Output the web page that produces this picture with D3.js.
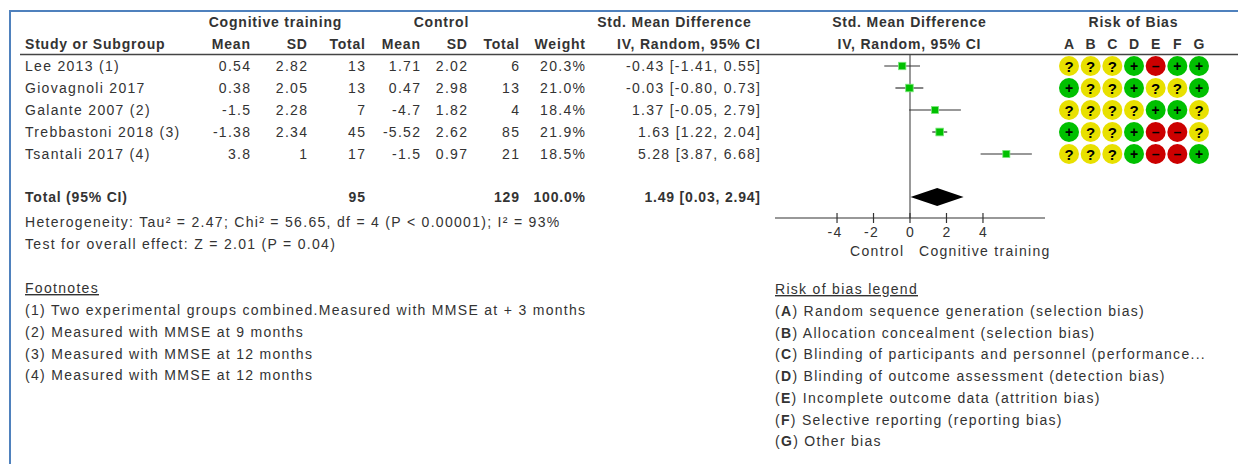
<!DOCTYPE html>
<html>
<head>
<meta charset="utf-8">
<script src="https://cdn.jsdelivr.net/npm/d3@7"></script>
<style>
  html, body { margin: 0; padding: 0; background: #fff; }
  svg { display: block; }
  text { font-family: "Liberation Sans", Arial, sans-serif; font-size: 14px; fill: #333; letter-spacing: 1.3px; }
  .b { font-weight: bold; fill: #333; letter-spacing: 0.8px; }
</style>
</head>
<body>
<svg id="chart" width="1238" height="464"></svg>
<script>
// Study-level data
const studies   = ["Lee 2013 (1)", "Giovagnoli 2017", "Galante 2007 (2)", "Trebbastoni 2018 (3)", "Tsantali 2017 (4)"];
const ctMean    = [0.54, 0.38, -1.5, -1.38, 3.8];
const ctSD      = [2.82, 2.05, 2.28, 2.34, 1];
const ctTotal   = [13, 13, 7, 45, 17];
const coMean    = [1.71, 0.47, -4.7, -5.52, -1.5];
const coSD      = [2.02, 2.98, 1.82, 2.62, 0.97];
const coTotal   = [6, 13, 4, 85, 21];
const weights   = [20.3, 21.0, 18.4, 21.9, 18.5];
const smd       = [-0.43, -0.03, 1.37, 1.63, 5.28];
const ciLow     = [-1.41, -0.80, -0.05, 1.22, 3.87];
const ciHigh    = [0.55, 0.73, 2.79, 2.04, 6.68];
// Risk of bias judgements per domain A..G ("+" low, "-" high, "?" unclear)
const biasDomains = ["A", "B", "C", "D", "E", "F", "G"];
const biasRows  = ["???+-++", "+??+??+", "????++?", "+??+--?", "???+--+"];

// Pooled estimate
const totalCT = 95, totalCo = 129, totalWeight = 100.0;
const pooled = { est: 1.49, lo: 0.03, hi: 2.94 };
const heterogeneity = "Heterogeneity: Tau\u00B2 = 2.47; Chi\u00B2 = 56.65, df = 4 (P < 0.00001); I\u00B2 = 93%";
const overallEffect = "Test for overall effect: Z = 2.01 (P = 0.04)";

const axisTicks = [-4, -2, 0, 2, 4];
const footnotes = [
  "(1) Two experimental groups combined.Measured with MMSE at + 3 months",
  "(2) Measured with MMSE at 9 months",
  "(3) Measured with MMSE at 12 months",
  "(4) Measured with MMSE at 12 months"
];
const legendItems = [
  ["A", "Random sequence generation (selection bias)"],
  ["B", "Allocation concealment (selection bias)"],
  ["C", "Blinding of participants and personnel (performance..."],
  ["D", "Blinding of outcome assessment (detection bias)"],
  ["E", "Incomplete outcome data (attrition bias)"],
  ["F", "Selective reporting (reporting bias)"],
  ["G", "Other bias"]
];

const svg = d3.select("#chart");

// Frame
svg.append("line").attr("x1", 9).attr("x2", 1238).attr("y1", 11).attr("y2", 11)
  .attr("stroke", "#4f81bd").attr("stroke-width", 2);
svg.append("line").attr("x1", 10).attr("x2", 10).attr("y1", 10).attr("y2", 464)
  .attr("stroke", "#4f81bd").attr("stroke-width", 2);

// Text helper; end-anchored text is nudged right to cancel trailing letter spacing
function txt(x, y, s, anchor, cls) {
  const ls = cls === "b" ? 0.8 : 1.3;
  const dx = anchor === "end" ? ls : anchor === "middle" ? ls / 2 : 0;
  return svg.append("text").attr("x", x + dx).attr("y", y + 5)
    .attr("text-anchor", anchor || "start")
    .attr("class", cls || null).text(s);
}

// Row positions
const rowY = d3.scalePoint().domain(d3.range(studies.length)).range([66, 154]);

// Column right edges
const col = { ctMean: 250, ctSD: 307, ctTotal: 365, coMean: 420, coSD: 467, coTotal: 519, weight: 585, ci: 760 };

// Header
txt(275, 22, "Cognitive training", "middle", "b");
txt(441, 22, "Control", "middle", "b");
txt(674, 22, "Std. Mean Difference", "middle", "b");
txt(909, 22, "Std. Mean Difference", "middle", "b");
txt(1133, 22, "Risk of Bias", "middle", "b");
txt(25, 44, "Study or Subgroup", "start", "b");
txt(col.ctMean, 44, "Mean", "end", "b");
txt(col.ctSD, 44, "SD", "end", "b");
txt(col.ctTotal, 44, "Total", "end", "b");
txt(col.coMean, 44, "Mean", "end", "b");
txt(col.coSD, 44, "SD", "end", "b");
txt(col.coTotal, 44, "Total", "end", "b");
txt(col.weight, 44, "Weight", "end", "b");
txt(col.ci, 44, "IV, Random, 95% CI", "end", "b");
txt(909, 44, "IV, Random, 95% CI", "middle", "b");

const biasX = d3.scalePoint().domain(biasDomains).range([1069, 1199]);
biasDomains.forEach(d => txt(biasX(d), 44, d, "middle", "b"));

svg.append("line").attr("x1", 20).attr("x2", 1238).attr("y1", 54.5).attr("y2", 54.5)
  .attr("stroke", "#444").attr("stroke-width", 1.5);

// Study rows
const f2 = v => v.toFixed(2);
studies.forEach((s, i) => {
  const y = rowY(i);
  txt(25, y, s);
  txt(col.ctMean, y, String(ctMean[i]), "end");
  txt(col.ctSD, y, String(ctSD[i]), "end");
  txt(col.ctTotal, y, String(ctTotal[i]), "end");
  txt(col.coMean, y, String(coMean[i]), "end");
  txt(col.coSD, y, String(coSD[i]), "end");
  txt(col.coTotal, y, String(coTotal[i]), "end");
  txt(col.weight, y, weights[i].toFixed(1) + "%", "end");
  txt(col.ci, y, `${f2(smd[i])} [${f2(ciLow[i])}, ${f2(ciHigh[i])}]`, "end");
});

// Total row
const totalY = 197;
txt(25, totalY, "Total (95% CI)", "start", "b");
txt(col.ctTotal, totalY, String(totalCT), "end", "b");
txt(col.coTotal, totalY, String(totalCo), "end", "b");
txt(col.weight, totalY, totalWeight.toFixed(1) + "%", "end", "b");
txt(col.ci, totalY, `${f2(pooled.est)} [${f2(pooled.lo)}, ${f2(pooled.hi)}]`, "end", "b");
txt(25, 222, heterogeneity);
txt(25, 244, overallEffect);

// Forest plot
const x = d3.scaleLinear().domain([-7.4, 7.4]).range([775, 1045]);
const axisY = 218;
const plot = svg.append("g");

plot.append("line").attr("x1", x(0)).attr("x2", x(0)).attr("y1", 55).attr("y2", axisY)
  .attr("stroke", "#555").attr("stroke-width", 1.2);

const side = w => 1.65 * Math.sqrt(w);
studies.forEach((s, i) => {
  const y = rowY(i);
  plot.append("line").attr("x1", x(ciLow[i])).attr("x2", x(ciHigh[i]))
    .attr("y1", y).attr("y2", y).attr("stroke", "#333").attr("stroke-width", 1.2);
  const a = side(weights[i]);
  plot.append("rect").attr("x", x(smd[i]) - a / 2).attr("y", y - a / 2)
    .attr("width", a).attr("height", a)
    .attr("fill", "#00c000").attr("stroke", "#7de87d").attr("stroke-width", 0.8);
});

// Pooled diamond
const dh = 9;
plot.append("path")
  .attr("d", `M${x(pooled.lo)},${totalY} L${x(pooled.est)},${totalY - dh} L${x(pooled.hi)},${totalY} L${x(pooled.est)},${totalY + dh} Z`)
  .attr("fill", "#000");

// Axis
const axisG = plot.append("g").attr("transform", `translate(0,${axisY})`);
axisG.append("line").attr("x1", x.range()[0]).attr("x2", x.range()[1])
  .attr("stroke", "#333").attr("stroke-width", 1.2);
axisTicks.forEach(t => {
  axisG.append("line").attr("x1", x(t)).attr("x2", x(t)).attr("y1", -5).attr("y2", 5)
    .attr("stroke", "#333").attr("stroke-width", 1.2);
  svg.append("text").attr("x", x(t) + (t < 0 ? -2 : 0.6)).attr("y", axisY + 19)
    .attr("text-anchor", "middle").text(String(t));
});
txt(903, 251, "Control", "end");
txt(919, 251, "Cognitive training", "start");

// Risk of bias dots
const biasFill = { "+": "#00c000", "-": "#cc0000", "?": "#e8e000" };
const biasMark = { "+": "+", "-": "\u2013", "?": "?" };
biasRows.forEach((r, i) => {
  const y = rowY(i);
  r.split("").forEach((c, j) => {
    const cx = biasX(biasDomains[j]);
    svg.append("circle").attr("cx", cx).attr("cy", y).attr("r", 10).attr("fill", biasFill[c]);
    svg.append("text").attr("x", cx).attr("y", y + (c === "?" ? 5.5 : 5))
      .attr("text-anchor", "middle")
      .style("font-weight", "bold").style("fill", "#000").style("letter-spacing", "0")
      .style("font-size", c === "?" ? "15px" : "14px")
      .text(biasMark[c]);
  });
});

// Footnotes
txt(25, 288, "Footnotes").style("text-decoration", "underline");
footnotes.forEach((f, i) => txt(25, 310 + i * 21.8, f));

// Risk of bias legend
txt(775, 289, "Risk of bias legend").style("text-decoration", "underline");
legendItems.forEach(([k, label], i) => {
  const t = svg.append("text").attr("x", 775).attr("y", 311 + i * 21.7 + 5);
  t.append("tspan").text("(");
  t.append("tspan").style("font-weight", "bold").text(k);
  t.append("tspan").text(") " + label);
});
</script>
</body>
</html>
